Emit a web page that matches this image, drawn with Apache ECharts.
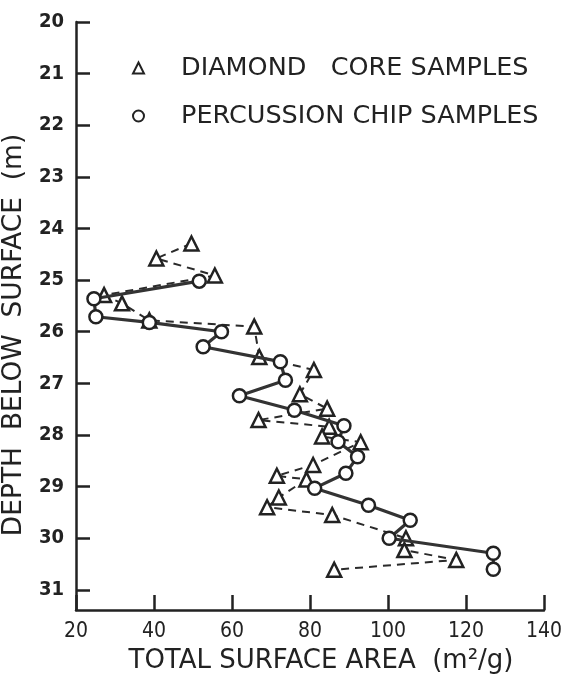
<!DOCTYPE html>
<html>
<head>
<meta charset="utf-8">
<script src="https://cdn.jsdelivr.net/npm/echarts@6/dist/echarts.min.js"></script>
<style>
  html, body { margin: 0; padding: 0; background: #fff; }
  #main { width: 561px; height: 675px; }
</style>
</head>
<body>
<div id="main"></div>
<script>
// diamond core samples (triangles, dashed)
var coreDepth = [24.29, 24.58, 24.91, 25.29, 25.45, 25.78, 25.90, 26.49, 26.74, 27.21, 27.49, 27.71, 27.84,
                 28.03, 28.14, 28.58, 28.79, 28.86, 29.21, 29.40, 29.55, 30.00, 30.23, 30.42, 30.61];
var coreArea  = [49.6, 40.6, 55.6, 27.2, 31.8, 38.8, 65.7, 67.0, 81.0, 77.4, 84.4, 66.8, 84.9,
                 83.1, 93.0, 80.8, 71.5, 79.1, 72.0, 69.0, 85.7, 104.6, 104.2, 117.5, 86.2];

// percussion chip samples (circles, solid)
var chipDepth = [25.02, 25.36, 25.71, 25.82, 26.00, 26.29, 26.58, 26.94, 27.24, 27.52, 27.82,
                 28.13, 28.42, 28.74, 29.03, 29.36, 29.65, 30.00, 30.29, 30.60];
var chipArea  = [51.6, 24.6, 25.1, 38.8, 57.3, 52.6, 72.4, 73.7, 61.9, 76.0, 88.7,
                 87.2, 92.2, 89.2, 81.2, 95.0, 105.7, 100.3, 127.0, 127.0];

var xTicks = [20, 40, 60, 80, 100, 120, 140];
var yTicks = [20, 21, 22, 23, 24, 25, 26, 27, 28, 29, 30, 31];

function pairs(xs, ys) {
    return xs.map(function (x, i) { return [x, ys[i]]; });
}

var font = 'DejaVu Sans Condensed';
var ink = '#222';

var myChart = echarts.init(document.getElementById('main'));

var option = {
    backgroundColor: '#fff',
    animation: false,
    grid: { left: 76, top: 22, right: 17, bottom: 65, outerBoundsMode: 'none' },
    legend: {
        orient: 'vertical',
        left: 127,
        top: 50,
        itemGap: 22,
        itemWidth: 11,
        itemHeight: 11,
        textStyle: { fontFamily: 'DejaVu Sans', fontSize: 25.5, color: ink, padding: [0, 0, 0, 32] },
        data: [
            { name: 'DIAMOND   CORE SAMPLES', icon: 'triangle' },
            { name: 'PERCUSSION CHIP SAMPLES', icon: 'circle' }
        ]
    },
    xAxis: {
        type: 'value',
        min: xTicks[0],
        max: xTicks[xTicks.length - 1],
        interval: 20,
        name: 'TOTAL SURFACE AREA  (m²/g)',
        nameLocation: 'middle',
        nameGap: 38,
        nameTextStyle: { fontFamily: 'DejaVu Sans', fontSize: 26, color: ink, padding: [0, 0, 0, 22] },
        axisLine: { onZero: false, lineStyle: { color: ink, width: 2.5 } },
        axisTick: { inside: true, length: 15, lineStyle: { color: ink, width: 2.5 } },
        axisLabel: { fontFamily: font, fontSize: 21, color: ink, margin: 11 },
        splitLine: { show: false }
    },
    yAxis: {
        type: 'value',
        inverse: true,
        min: yTicks[0],
        max: 31.39,
        interval: 1,
        name: 'DEPTH  BELOW  SURFACE  (m)',
        nameLocation: 'middle',
        nameGap: 34,
        nameRotate: 90,
        nameTextStyle: { fontFamily: 'DejaVu Sans', fontSize: 26.5, color: ink, padding: [0, 38, 0, 0] },
        axisLine: { onZero: false, lineStyle: { color: ink, width: 2.5 } },
        axisTick: { inside: true, length: 14, lineStyle: { color: ink, width: 2.5 } },
        axisLabel: {
            fontFamily: font, fontSize: 20, fontWeight: 'bold', color: ink, margin: 12,
            showMaxLabel: false,
            formatter: function (v) { return yTicks.indexOf(v) >= 0 ? String(v) : ''; }
        },
        splitLine: { show: false }
    },
    series: [
        {
            name: 'DIAMOND   CORE SAMPLES',
            type: 'line',
            data: pairs(coreArea, coreDepth),
            symbol: 'triangle',
            symbolSize: 14,
            itemStyle: { color: '#fff', borderColor: ink, borderWidth: 2.5 },
            lineStyle: { color: '#2a2a2a', width: 2, type: [8, 6] },
            z: 3
        },
        {
            name: 'PERCUSSION CHIP SAMPLES',
            type: 'line',
            data: pairs(chipArea, chipDepth),
            symbol: 'circle',
            symbolSize: 13,
            itemStyle: { color: '#fff', borderColor: ink, borderWidth: 2.5 },
            lineStyle: { color: '#333', width: 3.2 },
            z: 4
        }
    ]
};

myChart.setOption(option);
</script>
</body>
</html>
